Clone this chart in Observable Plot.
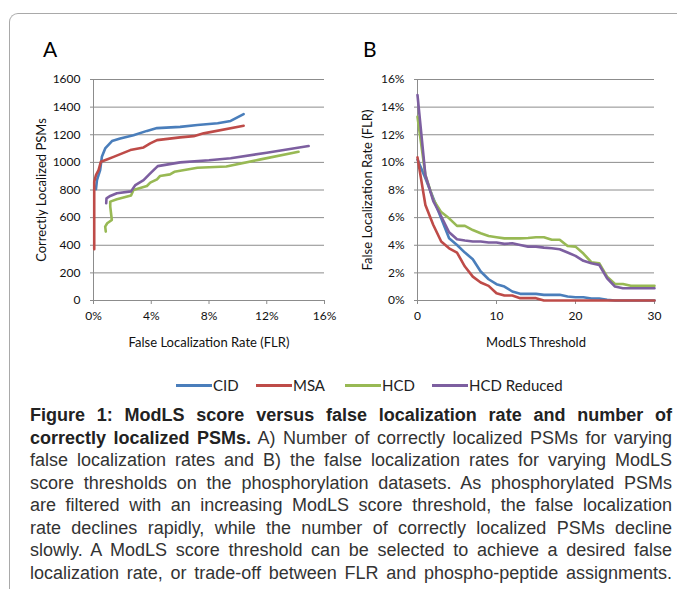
<!DOCTYPE html>
<html><head><meta charset="utf-8">
<script src="https://cdn.jsdelivr.net/npm/d3@7"></script>
<script src="https://cdn.jsdelivr.net/npm/@observablehq/plot@0.6"></script>
<style>
body{margin:0;background:#fff;}
#page{position:relative;width:677px;height:589px;overflow:hidden;background:#fff;}
#frame{position:absolute;left:9px;top:13px;width:720px;height:620px;border-left:1.5px solid #a9a9a9;border-top:1.5px solid #a9a9a9;border-top-left-radius:9px;}
.panel{position:absolute;top:30px;}
.plabel{position:absolute;top:36px;font:21px Lato, sans-serif;color:#000;}
#legend{position:absolute;top:375px;left:0;width:677px;height:20px;font:15px Lato, sans-serif;color:#222;}
.lg{position:absolute;top:0;height:20px;line-height:20px;white-space:nowrap;}
.sw{position:absolute;top:9px;width:36px;height:3px;}
#caption{position:absolute;left:30px;top:404px;width:642px;font:18px "Liberation Sans", Arial, sans-serif;color:#333;line-height:22.5px;}
#caption div{text-align:justify;text-align-last:justify;white-space:nowrap;}
#caption b{color:#222;}
g[aria-label="x-axis label"] text, g[aria-label="y-axis label"] text{font-size:13px;}
</style></head>
<body><div id="page">
<div id="frame"></div>
<div class="plabel" style="left:43px">A</div>
<div class="plabel" style="left:363px">B</div>
<div id="pa" class="panel" style="left:0px"></div>
<div id="pb" class="panel" style="left:340px"></div>
<div id="legend"></div>
<div id="caption"></div>
</div>
<script>
// ---------- data ----------
const seriesNames = ["CID", "MSA", "HCD", "HCD Reduced"];
const seriesColors = ["#4a7ebb", "#be4b48", "#98b954", "#7d5fa0"];

// Panel A: FLR (%) vs correctly localized PSMs
const cidFLR  = [0.17, 0.24, 0.35, 0.46, 0.58, 0.81, 1.28, 1.85, 2.77, 3.7, 4.4, 6.0, 7.2, 8.6, 9.5, 10.4];
const cidPSM  = [805, 872, 908, 944, 1040, 1101, 1154, 1173, 1197, 1228, 1248, 1257, 1270, 1283, 1300, 1349];
const msaFLR  = [0.05, 0.05, 0.17, 0.35, 0.51, 0.93, 1.39, 2.55, 3.47, 3.93, 4.4, 6.0, 6.94, 7.63, 10.4];
const msaPSM  = [371, 860, 908, 944, 1004, 1021, 1040, 1089, 1108, 1137, 1161, 1181, 1190, 1210, 1265];
const hcdFLR  = [0.85, 0.81, 0.95, 1.27, 1.16, 1.16, 1.62, 2.6, 2.77, 3.7, 3.93, 4.4, 4.6, 5.3, 5.6, 7.2, 9.2, 11.5, 14.2];
const hcdPSM  = [499, 535, 559, 583, 680, 716, 733, 760, 800, 829, 853, 877, 901, 913, 932, 961, 970, 1020, 1077];
const hcdrFLR = [0.88, 0.9, 1.16, 1.62, 2.6, 2.9, 3.47, 3.93, 4.45, 6.0, 8.0, 9.5, 12.0, 14.9];
const hcdrPSM = [704, 740, 757, 776, 790, 836, 872, 920, 973, 1000, 1015, 1030, 1070, 1118];

// Panel B: ModLS threshold vs FLR (%)
const thresholds = [0,1,2,3,4,5,6,7,8,9,10,11,12,13,14,15,16,17,18,19,20,21,22,23,24,25,26,27,28,29,30];
const cidB  = [10.2, 8.85, 7.4, 5.95, 4.5, 4.02, 3.47, 2.99, 2.1, 1.54, 1.18, 1.01, 0.65, 0.48, 0.48, 0.48, 0.41, 0.41, 0.41, 0.29, 0.24, 0.24, 0.14, 0.14, 0.05, 0, 0, 0, 0, 0, 0];
const msaB  = [10.36, 6.92, 5.47, 4.27, 3.78, 3.47, 2.46, 1.73, 1.3, 1.06, 0.53, 0.36, 0.36, 0.17, 0.17, 0.17, 0, 0, 0, 0, 0, 0, 0, 0, 0, 0, 0, 0, 0, 0, 0];
const hcdB  = [13.3, 9.08, 7.3, 6.4, 5.95, 5.4, 5.4, 5.1, 4.87, 4.67, 4.58, 4.5, 4.5, 4.5, 4.53, 4.58, 4.58, 4.4, 4.4, 3.95, 3.9, 3.4, 2.77, 2.7, 1.73, 1.2, 1.2, 1.06, 1.06, 1.06, 1.06];
const hcdrB = [14.87, 9.08, 7.2, 6.1, 4.94, 4.43, 4.34, 4.27, 4.27, 4.2, 4.2, 4.1, 4.14, 4.02, 3.9, 3.9, 3.83, 3.78, 3.71, 3.47, 3.23, 2.87, 2.7, 2.58, 1.61, 1.01, 0.89, 0.89, 0.89, 0.89, 0.89];

// tick labels
const xTicksA = [0, 4, 8, 12, 16];
const yTicksA = [0, 200, 400, 600, 800, 1000, 1200, 1400, 1600];
const xTicksB = [0, 10, 20, 30];
const yTicksB = [0, 2, 4, 6, 8, 10, 12, 14, 16];

const captionBold1 = "Figure 1: ModLS score versus false localization rate and number of";
const captionBold2 = "correctly localized PSMs.";
const captionLines = [
  " A) Number of correctly localized PSMs for varying",
  "false localization rates and B) the false localization rates for varying ModLS",
  "score thresholds on the phosphorylation datasets. As phosphorylated PSMs",
  "are filtered with an increasing ModLS score threshold, the false localization",
  "rate declines rapidly, while the number of correctly localized PSMs decline",
  "slowly. A ModLS score threshold can be selected to achieve a desired false",
  "localization rate, or trade-off between FLR and phospho-peptide assignments."
];

// ---------- tables ----------
const dataA = [];
[[cidFLR, cidPSM], [msaFLR, msaPSM], [hcdFLR, hcdPSM], [hcdrFLR, hcdrPSM]].forEach(([xs, ys], i) => {
  xs.forEach((x, j) => dataA.push({series: seriesNames[i], x, y: ys[j]}));
});
const dataB = [];
[cidB, msaB, hcdB, hcdrB].forEach((ys, i) => {
  thresholds.forEach((t, j) => dataB.push({series: seriesNames[i], x: t, y: ys[j]}));
});

const gridColor = "#8c8c8c";
const style = {fontFamily: "Lato, sans-serif", fontSize: "12px", color: "#111", background: "transparent", overflow: "visible"};
const color = {domain: seriesNames, range: seriesColors};

const plotA = Plot.plot({
  width: 340, height: 330,
  marginLeft: 93, marginRight: 16, marginTop: 49, marginBottom: 60,
  style, color,
  x: {domain: [0, 16]},
  y: {domain: [0, 1600]},
  marks: [
    Plot.gridY(yTicksA, {stroke: gridColor, strokeOpacity: 1}),
    Plot.axisY(yTicksA, {tickSize: 3, tickPadding: 10, stroke: gridColor, tickFormat: d => String(d), label: "Correctly Localized PSMs", labelAnchor: "center", labelOffset: 57, labelArrow: "none"}),
    Plot.axisX(xTicksA, {tickSize: 4, tickPadding: 7, stroke: gridColor, tickFormat: d => d + "%", label: "False Localization Rate (FLR)", labelAnchor: "center", labelOffset: 46, labelArrow: "none"}),
    Plot.ruleX([0], {stroke: gridColor}),
    Plot.ruleY([0], {stroke: gridColor}),
    Plot.line(dataA, {x: "x", y: "y", z: "series", stroke: "series", strokeWidth: 2.6, curve: "linear"})
  ]
});
document.getElementById("pa").appendChild(plotA);

const plotB = Plot.plot({
  width: 337, height: 330,
  marginLeft: 77, marginRight: 23, marginTop: 49, marginBottom: 60,
  style, color,
  x: {domain: [0, 30]},
  y: {domain: [0, 16]},
  marks: [
    Plot.gridY(yTicksB, {stroke: gridColor, strokeOpacity: 1}),
    Plot.axisY(yTicksB, {tickSize: 3, tickPadding: 10, stroke: gridColor, tickFormat: d => d + "%", label: "False Localization Rate (FLR)", labelAnchor: "center", labelOffset: 55, labelArrow: "none"}),
    Plot.axisX(xTicksB, {tickSize: 4, tickPadding: 7, stroke: gridColor, tickFormat: d => String(d), label: "ModLS Threshold", labelAnchor: "center", labelOffset: 46, labelArrow: "none"}),
    Plot.ruleX([0], {stroke: gridColor}),
    Plot.ruleY([0], {stroke: gridColor}),
    Plot.line(dataB, {x: "x", y: "y", z: "series", stroke: "series", strokeWidth: 2.6, curve: "linear"})
  ]
});
document.getElementById("pb").appendChild(plotB);

// ---------- legend ----------
const legendPos = [176, 256, 345, 432];
const legend = document.getElementById("legend");
seriesNames.forEach((name, i) => {
  const sw = document.createElement("div");
  sw.className = "sw";
  sw.style.left = legendPos[i] + "px";
  sw.style.background = seriesColors[i];
  legend.appendChild(sw);
  const lb = document.createElement("div");
  lb.className = "lg";
  lb.style.left = (legendPos[i] + 37) + "px";
  lb.textContent = name;
  legend.appendChild(lb);
});

// ---------- caption ----------
const cap = document.getElementById("caption");
const l1 = document.createElement("div"); l1.innerHTML = "<b>" + captionBold1 + "</b>"; cap.appendChild(l1);
const l2 = document.createElement("div"); l2.innerHTML = "<b>" + captionBold2 + "</b>" + captionLines[0]; cap.appendChild(l2);
captionLines.slice(1).forEach(t => { const d = document.createElement("div"); d.textContent = t; cap.appendChild(d); });
</script>
</body></html>
